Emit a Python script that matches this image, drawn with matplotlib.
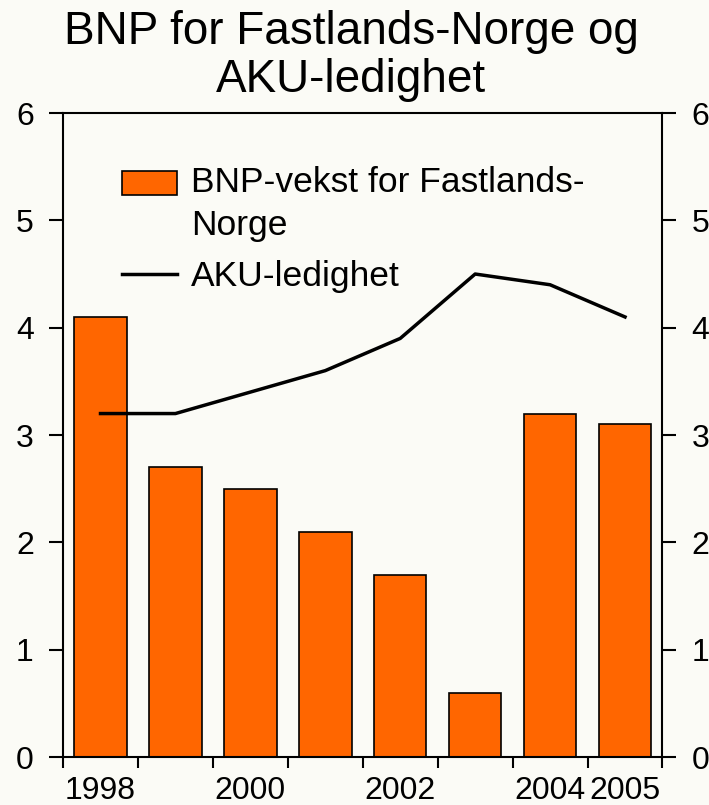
import numpy as np
import matplotlib.pyplot as plt
from matplotlib.ticker import FixedLocator, NullFormatter
from matplotlib.patches import Patch, Rectangle
from matplotlib.legend_handler import HandlerPatch

years = [1998, 1999, 2000, 2001, 2002, 2003, 2004, 2005]
bnp = [4.1, 2.7, 2.5, 2.1, 1.7, 0.6, 3.2, 3.1]
aku = [3.2, 3.2, 3.4, 3.6, 3.9, 4.5, 4.4, 4.1]
shown_years = [1998, 2000, 2002, 2004, 2005]

plt.rcParams['font.family'] = ['Liberation Sans', 'DejaVu Sans']
bg = '#FBFBF6'
orange = '#FF6600'

fig = plt.figure(figsize=(7.09, 8.05), dpi=100, facecolor=bg)
ax = fig.add_axes([0.0889, 0.0596, 0.8455, 0.80])
ax.set_facecolor(bg)

x = np.arange(len(years))
ax.bar(x, bnp, width=0.7, color=orange, edgecolor='black', linewidth=1.2, zorder=2)
line, = ax.plot(x, aku, color='black', linewidth=2.5, label='AKU-ledighet', zorder=3)

ax.set_xlim(-0.5, len(years) - 0.5)
ax.set_ylim(0, 6)

# major ticks at slot boundaries, labels under selected bars
ax.xaxis.set_major_locator(FixedLocator(np.arange(len(years) + 1) - 0.5))
ax.xaxis.set_major_formatter(NullFormatter())
ax.set_xticks([years.index(y) for y in shown_years], minor=True)
ax.set_xticklabels([str(y) for y in shown_years], minor=True)
ax.tick_params(axis='x', which='major', direction='out', length=8, width=1.5)
ax.tick_params(axis='x', which='minor', length=0, pad=14, labelsize=23)

ax.set_yticks(range(7))
ax.tick_params(axis='y', direction='out', length=10, width=1.5, labelsize=23,
               left=True, right=True, labelleft=True, labelright=True, pad=11)

for s in ax.spines.values():
    s.set_linewidth(1.5)


# legend box sits next to the first line of the two-line label
def top_patch(legend, orig_handle, xdescent, ydescent, width, height, fontsize):
    return Rectangle((-xdescent, -ydescent + 0.62 * fontsize), width, height)


bar_handle = Patch(facecolor=orange, edgecolor='black', linewidth=1.2,
                   label='BNP-vekst for Fastlands-\nNorge')
leg = ax.legend(handles=[bar_handle, line], loc='upper left',
                bbox_to_anchor=(0.0985, 0.917), frameon=False, fontsize=25.5,
                handlelength=1.55, handleheight=0.7, handletextpad=0.4,
                labelspacing=0.5, borderaxespad=0, borderpad=0,
                handler_map={Patch: HandlerPatch(patch_func=top_patch)})
for t in leg.get_texts():
    t.set_linespacing(1.38)

fig.text(0.495, 0.987, 'BNP for Fastlands-Norge og\nAKU-ledighet', ha='center', va='top',
         fontsize=33, linespacing=1.1)

fig.savefig('out.png', dpi=100, facecolor=bg)
